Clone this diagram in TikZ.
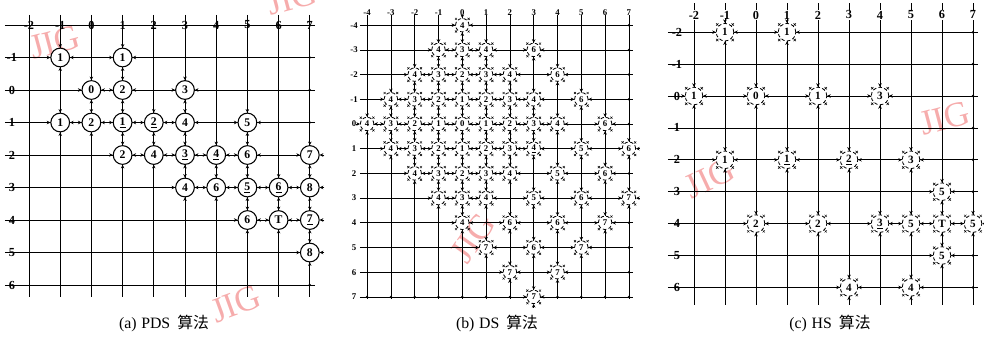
\documentclass[tikz,border=0pt]{standalone}
\usepackage{fontspec}
\setmainfont{Liberation Serif}
\newfontfamily\cjk{Noto Sans CJK SC}
\usepackage{tikz}
\usetikzlibrary{arrows.meta,calc}
\definecolor{stampred}{RGB}{246,172,172}

\begin{document}
\begin{tikzpicture}[x=0.03cm, y=-0.03cm,
        gridline/.style={line width=0.6pt},
        solidpt/.style={circle, draw, line width=0.9pt, fill=white, inner sep=0pt, minimum size=16pt, font=\fontsize{10}{10}\selectfont\bfseries},
        dashpt/.style={circle, draw, densely dashed, line width=0.7pt, fill=white, inner sep=0pt, minimum size=11.5pt, font=\fontsize{7.5}{8}\selectfont\bfseries},
        hspt/.style={dashpt, minimum size=15pt, font=\fontsize{9.5}{10}\selectfont\bfseries},
        tip/.style={-{Stealth[length=3pt,width=3pt]}, line width=0.6pt},
        cross/.style={line width=0.4pt},
        axislab/.style={font=\fontsize{10.5}{10.5}\selectfont\bfseries, inner sep=0.5pt},
        caption/.style={font=\fontsize{13.5}{13.5}\selectfont},
        stamp/.style={text=stampred, font=\fontsize{30}{30}\selectfont}]

        \useasboundingbox (0,0) rectangle (984,337);

        % watermarks
        \node[stamp, rotate=15] (wm1) at (55,42) {JIG};
        \node[stamp, rotate=15] (wm2) at (292,-2) {JIG};
        \node[stamp, rotate=20] (wm3) at (236,304) {JIG};
        \node[stamp, rotate=55] (wm4) at (473,238) {JIG};
        \node[stamp, rotate=15] (wm5) at (945,118) {JIG};
        \node[stamp, rotate=25] (wm6) at (710,178) {JIG};

        % (a) PDS
        \begin{scope}[shift={(91.4,90)}, x=0.936cm, y=-0.975cm]
            \foreach \c in {-2,...,7} \draw[gridline] (\c,-2.31) -- (\c,6.37);
            \foreach \r in {-2,...,6} \draw[gridline] (-2.77,\r) -- (7.17,\r);
            \foreach \r in {-1,...,6} \fill (7,\r) circle (1.2pt);
            \foreach \c in {-2,...,7} \node[axislab] (ac\c) at (\c,-2) {\c};
            \foreach \r in {-1,...,6} \node[axislab] (ar\r) at (-2.55,\r) {\r};
            \foreach \c/\r/\t in {-1/-1/1, 1/-1/1,
                    0/0/0, 1/0/2, 3/0/3,
                    -1/1/1, 0/1/2, 1/1/{\underline{1}}, 2/1/{\underline{2}}, 3/1/4, 5/1/5,
                    1/2/2, 2/2/4, 3/2/{\underline{3}}, 4/2/{\underline{4}}, 5/2/6, 7/2/7,
                    3/3/4, 4/3/6, 5/3/{\underline{5}}, 6/3/{\underline{6}}, 7/3/8,
                    5/4/6, 6/4/T, 7/4/{\underline{7}},
                    7/5/8} {
                \node[solidpt] (a\c_\r) at (\c,\r) {\t};
                \foreach \ang in {0,90,180,270}
                    \draw[tip] ($(a\c_\r.\ang)+(\ang:4pt)$) -- (a\c_\r.\ang);
            }
        \end{scope}

        % (b) DS
        \begin{scope}[shift={(462.3,124)}, x=0.714cm, y=-0.741cm]
            \foreach \c in {-4,...,7} \draw[gridline] (\c,-4.4) -- (\c,7.1);
            \foreach \r in {-4,...,7} \draw[gridline] (-4.3,\r) -- (7.17,\r);
            \foreach \r in {-4,...,7} \fill (7,\r) circle (1.1pt);
            \foreach \c in {-4,...,6} \fill (\c,7) circle (1.1pt);
            \foreach \c in {-4,...,7} \node[axislab, font=\fontsize{7.5}{7.5}\selectfont\bfseries] (bc\c) at (\c,-4.5) {\c};
            \foreach \r in {-4,...,7} \node[axislab, font=\fontsize{7.5}{7.5}\selectfont\bfseries, fill=white] (br\r) at (-4.55,\r) {\r};
            \foreach \c/\r/\t in {0/-4/4,
                    -1/-3/4, 0/-3/3, 1/-3/4, 3/-3/6,
                    -2/-2/4, -1/-2/3, 0/-2/2, 1/-2/3, 2/-2/4, 4/-2/6,
                    -3/-1/4, -2/-1/3, -1/-1/2, 0/-1/1, 1/-1/2, 2/-1/3, 3/-1/4, 5/-1/6,
                    -4/0/4, -3/0/3, -2/0/2, -1/0/1, 0/0/0, 1/0/1, 2/0/2, 3/0/3, 4/0/4, 6/0/6,
                    -3/1/4, -2/1/3, -1/1/2, 0/1/1, 1/1/2, 2/1/3, 3/1/{\underline{4}}, 5/1/5, 7/1/6,
                    -2/2/4, -1/2/3, 0/2/2, 1/2/3, 2/2/4, 4/2/5, 6/2/6,
                    -1/3/4, 0/3/3, 1/3/4, 3/3/5, 5/3/6, 7/3/7,
                    0/4/4, 2/4/6, 4/4/6, 6/4/7,
                    1/5/7, 3/5/6, 5/5/7,
                    2/6/7, 4/6/7,
                    3/7/7} {
                \node[dashpt] (b\c_\r) at (\c,\r) {\t};
                \foreach \ang in {0,90,180,270}
                    \draw[tip] ($(b\c_\r.\ang)+(\ang:3pt)$) -- (b\c_\r.\ang);
                \foreach \ang in {45,135,225,315}
                    \draw[cross] ($(b\c_\r.\ang)+(\ang:1.5pt)$) +(-0.9pt,-0.9pt) -- +(0.9pt,0.9pt) +(-0.9pt,0.9pt) -- +(0.9pt,-0.9pt);
            }
        \end{scope}

        % (c) HS
        \begin{scope}[shift={(756,96)}, x=0.93cm, y=-0.957cm]
            \foreach \c in {-2,...,7} \draw[gridline] (\c,-2.9) -- (\c,6.55);
            \foreach \r in {-2,...,6} \draw[gridline] (-2.84,\r) -- (7.16,\r);
            \foreach \r in {-2,...,6} \fill (7,\r) circle (1.2pt);
            \foreach \c in {-2,...,7} \node[axislab, fill=white] (cc\c) at (\c,-2.54) {\c};
            \foreach \r in {-2,...,6} \node[axislab] (cr\r) at (-2.55,\r) {\r};
            \foreach \c/\r/\t in {-1/-2/1, 1/-2/1,
                    -2/0/1, 0/0/0, 2/0/1, 4/0/3,
                    -1/2/1, 1/2/{\underline{1}}, 3/2/{\underline{2}}, 5/2/3,
                    6/3/5,
                    0/4/2, 2/4/2, 4/4/{\underline{3}}, 5/4/5, 6/4/T, 7/4/5,
                    6/5/5,
                    3/6/4, 5/6/4} {
                \node[hspt] (c\c_\r) at (\c,\r) {\t};
                \foreach \ang in {0,90,180,270}
                    \draw[tip] ($(c\c_\r.\ang)+(\ang:4pt)$) -- (c\c_\r.\ang);
                \foreach \ang in {45,135,225,315}
                    \draw[cross] ($(c\c_\r.\ang)+(\ang:1.5pt)$) +(-1pt,-1pt) -- +(1pt,1pt) +(-1pt,1pt) -- +(1pt,-1pt);
            }
        \end{scope}

        % captions
        \node[caption] (capa) at (164,323) {(a)\hspace{4pt}PDS\hspace{6pt}{\cjk 算法}};
        \node[caption] (capb) at (497,323) {(b)\hspace{4pt}DS\hspace{6pt}{\cjk 算法}};
        \node[caption] (capc) at (830,323) {(c)\hspace{4pt}HS\hspace{6pt}{\cjk 算法}};

    \end{tikzpicture}
\end{document}
